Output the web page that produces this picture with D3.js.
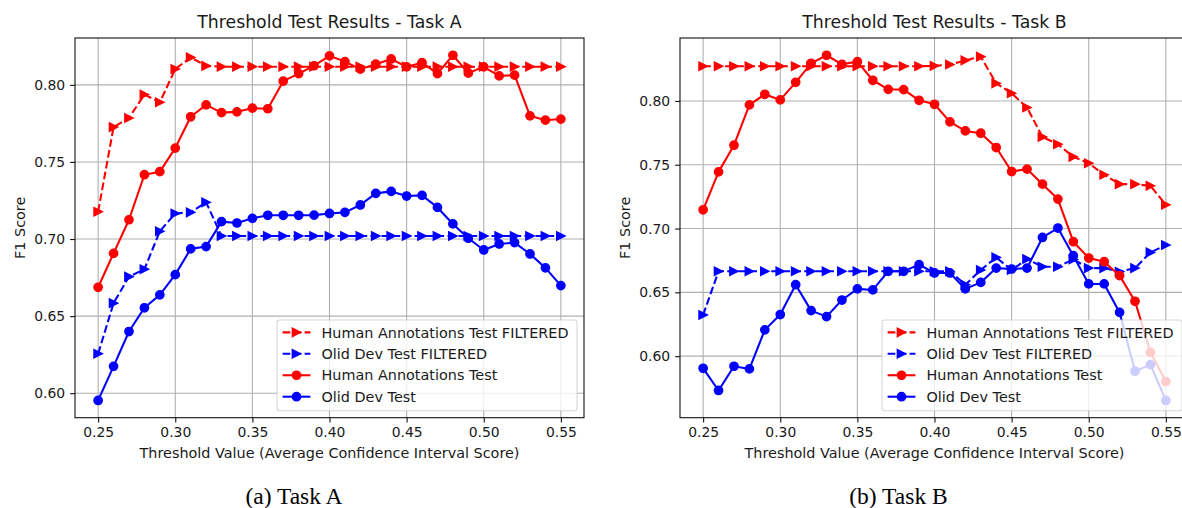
<!DOCTYPE html>
<html><head><meta charset="utf-8">
<script src="https://cdn.jsdelivr.net/npm/d3@7"></script>
<style>html,body{margin:0;padding:0;background:#fff;} svg{display:block;font-family:"DejaVu Sans",sans-serif;}</style>
</head><body><svg id="c" width="1182" height="508"></svg>
<script>
// ---------- data ----------
const thresholds = [0.25,0.26,0.27,0.28,0.29,0.30,0.31,0.32,0.33,0.34,0.35,0.36,0.37,0.38,0.39,0.40,
                    0.41,0.42,0.43,0.44,0.45,0.46,0.47,0.48,0.49,0.50,0.51,0.52,0.53,0.54,0.55];
const xTickValues = [0.25,0.30,0.35,0.40,0.45,0.50,0.55];
const yTickValues = [0.60,0.65,0.70,0.75,0.80];
const seriesNames = ["Human Annotations Test FILTERED","Olid Dev Test FILTERED","Human Annotations Test","Olid Dev Test"];

// Task A
const taskA_humanFiltered = [0.7177,0.7726,0.7785,0.7937,0.7887,0.8103,0.8178,0.8123,0.8118,0.8118,0.8118,0.8118,0.8118,0.8118,0.8118,0.8118,
                             0.8118,0.8118,0.8118,0.8118,0.8118,0.8118,0.8118,0.8118,0.8118,0.8118,0.8118,0.8118,0.8118,0.8118,0.8118];
const taskA_olidFiltered  = [0.6256,0.6584,0.6756,0.6804,0.7050,0.7166,0.7173,0.7238,0.7020,0.7020,0.7020,0.7020,0.7020,0.7020,0.7020,0.7020,
                             0.7020,0.7020,0.7020,0.7020,0.7020,0.7020,0.7020,0.7020,0.7020,0.7020,0.7020,0.7020,0.7020,0.7020,0.7020];
const taskA_human         = [0.6687,0.6907,0.7125,0.7417,0.7437,0.7590,0.7793,0.7870,0.7820,0.7825,0.7849,0.7845,0.8024,0.8073,0.8124,0.8188,
                             0.8151,0.8102,0.8134,0.8168,0.8117,0.8144,0.8073,0.8192,0.8076,0.8117,0.8058,0.8063,0.7799,0.7771,0.7778];
const taskA_olid          = [0.5953,0.6174,0.6400,0.6554,0.6638,0.6769,0.6936,0.6951,0.7113,0.7104,0.7134,0.7154,0.7154,0.7154,0.7155,0.7166,
                             0.7173,0.7221,0.7296,0.7309,0.7279,0.7283,0.7205,0.7098,0.7005,0.6929,0.6968,0.6977,0.6903,0.6813,0.6698];
// Task B
const taskB_humanFiltered = [0.8272,0.8272,0.8272,0.8272,0.8272,0.8272,0.8272,0.8272,0.8272,0.8272,0.8272,0.8272,0.8272,0.8272,0.8272,0.8275,
                             0.8285,0.8318,0.8347,0.8138,0.8060,0.7948,0.7718,0.7661,0.7562,0.7512,0.7421,0.7348,0.7348,0.7335,0.7186];
const taskB_olidFiltered  = [0.6323,0.6665,0.6665,0.6665,0.6665,0.6665,0.6665,0.6665,0.6665,0.6665,0.6665,0.6665,0.6665,0.6665,0.6665,0.6665,
                             0.6665,0.6560,0.6675,0.6774,0.6675,0.6761,0.6701,0.6701,0.6758,0.6690,0.6690,0.6662,0.6690,0.6813,0.6871];
const taskB_human         = [0.7147,0.7444,0.7653,0.7969,0.8052,0.8008,0.8146,0.8295,0.8358,0.8287,0.8308,0.8162,0.8091,0.8089,0.8005,0.7974,
                             0.7836,0.7765,0.7747,0.7635,0.7447,0.7466,0.7348,0.7231,0.6897,0.6769,0.6740,0.6631,0.6430,0.6030,0.5801];
const taskB_olid          = [0.5905,0.5731,0.5921,0.5900,0.6206,0.6326,0.6560,0.6357,0.6310,0.6440,0.6527,0.6519,0.6665,0.6665,0.6717,0.6652,
                             0.6652,0.6527,0.6578,0.6690,0.6683,0.6690,0.6930,0.7004,0.6787,0.6566,0.6566,0.6343,0.5882,0.5934,0.5653];

// ---------- styles ----------
const colors = ["#ff0000","#0000ff","#ff0000","#0000ff"];
const dashed = [true,true,false,false];
const markers = ["tri","tri","circ","circ"];
const LW = 2.08, MR = 4.17, MEW = 1.39, FS = 13.9, FSL = 14.4;

const svg = d3.select("#c");

function pad(domain){ const r = domain[1]-domain[0]; return [domain[0]-0.05*r, domain[1]+0.05*r]; }

function panel(opts){
  const {left, right, top, bottom, series, title, caption, captionX, ylabelX} = opts;
  const g = svg.append("g");
  const x = d3.scaleLinear().domain(pad(d3.extent(thresholds))).range([left, right]);
  const all = series.flat();
  const y = d3.scaleLinear().domain(pad(d3.extent(all))).range([bottom, top]);

  // grid
  g.append("g").selectAll("line").data(xTickValues).join("line")
    .attr("x1", d=>x(d)).attr("x2", d=>x(d)).attr("y1", top).attr("y2", bottom)
    .attr("stroke", "#b0b0b0").attr("stroke-width", 1.1);
  g.append("g").selectAll("line").data(yTickValues).join("line")
    .attr("y1", d=>y(d)).attr("y2", d=>y(d)).attr("x1", left).attr("x2", right)
    .attr("stroke", "#b0b0b0").attr("stroke-width", 1.1);

  // series
  const line = d3.line().x((d,i)=>x(thresholds[i])).y(d=>y(d));
  series.forEach((vals, si)=>{
    const sg = g.append("g");
    sg.append("path").datum(vals).attr("d", line).attr("fill","none")
      .attr("stroke", colors[si]).attr("stroke-width", LW)
      .attr("stroke-linejoin","round")
      .attr("stroke-dasharray", dashed[si] ? "7.7,3.3" : null);
    drawMarkers(sg, vals.map((v,i)=>[x(thresholds[i]), y(v)]), markers[si], colors[si]);
  });

  // frame
  g.append("rect").attr("x", left).attr("y", top).attr("width", right-left).attr("height", bottom-top)
    .attr("fill","none").attr("stroke","#111").attr("stroke-width",1.1);

  // axes
  const ax = g.append("g").attr("transform", `translate(0,${bottom})`)
    .call(d3.axisBottom(x).tickValues(xTickValues).tickFormat(d3.format(".2f")).tickSize(4.9).tickPadding(4.9).tickSizeOuter(0));
  const ay = g.append("g").attr("transform", `translate(${left},0)`)
    .call(d3.axisLeft(y).tickValues(yTickValues).tickFormat(d3.format(".2f")).tickSize(4.9).tickPadding(4.9).tickSizeOuter(0));
  [ax, ay].forEach(a=>{
    a.attr("font-family", '"DejaVu Sans", sans-serif').attr("font-size", FS);
    a.select(".domain").remove();
    a.selectAll(".tick line").attr("stroke","#111").attr("stroke-width",1.1);
    a.selectAll(".tick text").attr("fill","#1a1a1a");
  });

  // legend
  const lw = 300, lh = 90.7;
  const lx = right - 6.95 - lw, ly = bottom - 6.95 - lh;
  const lg = g.append("g");
  lg.append("rect").attr("x", lx).attr("y", ly).attr("width", lw).attr("height", lh).attr("rx", 2.8)
    .attr("fill", "#fff").attr("fill-opacity", 0.8).attr("stroke", "#cccccc").attr("stroke-opacity", 0.8).attr("stroke-width", 1.1);
  seriesNames.forEach((name, si)=>{
    const cy = ly + 12.3 + si*21.45;
    const hx0 = lx + 5.56, hx1 = hx0 + 27.8;
    lg.append("line").attr("x1", hx0).attr("x2", hx1).attr("y1", cy).attr("y2", cy)
      .attr("stroke", colors[si]).attr("stroke-width", LW)
      .attr("stroke-dasharray", dashed[si] ? "7.7,3.3" : null);
    drawMarkers(lg, [[(hx0+hx1)/2, cy]], markers[si], colors[si]);
    lg.append("text").attr("x", hx1 + 11.1).attr("y", cy + 5.2).attr("font-size", FSL)
      .attr("fill", "#1a1a1a").text(name);
  });

  // title
  g.append("text").attr("x", (left+right)/2).attr("y", 27.5).attr("text-anchor","middle")
    .attr("font-size", 17.3).attr("fill","#1a1a1a").text(title);
  // x label
  g.append("text").attr("x", (left+right)/2).attr("y", 458).attr("text-anchor","middle")
    .attr("font-size", FSL).attr("fill","#1a1a1a").text("Threshold Value (Average Confidence Interval Score)");
  // y label
  g.append("text").attr("transform", `translate(${ylabelX},${(top+bottom)/2}) rotate(-90)`)
    .attr("text-anchor","middle").attr("font-size", FSL).attr("fill","#1a1a1a").text("F1 Score");
  // caption
  g.append("text").attr("x", captionX).attr("y", 504).attr("text-anchor","middle")
    .attr("font-family", '"Liberation Serif", "Times New Roman", serif').attr("font-size", 23.5)
    .attr("fill","#000").text(caption);
}

function drawMarkers(sel, pts, type, color){
  const r = MR;
  if (type === "circ") {
    sel.append("g").selectAll("circle").data(pts).join("circle")
      .attr("cx", d=>d[0]).attr("cy", d=>d[1]).attr("r", r)
      .attr("fill", color).attr("stroke", color).attr("stroke-width", MEW);
  } else {
    sel.append("g").selectAll("path").data(pts).join("path")
      .attr("d", d=>`M${d[0]+r},${d[1]} L${d[0]-r},${d[1]-r} L${d[0]-r},${d[1]+r} Z`)
      .attr("fill", color).attr("stroke", color).attr("stroke-width", MEW).attr("stroke-linejoin","miter");
  }
}

panel({left:75, right:584, top:38, bottom:417.7,
  series:[taskA_humanFiltered, taskA_olidFiltered, taskA_human, taskA_olid],
  title:"Threshold Test Results - Task A", caption:"(a) Task A", captionX:294, ylabelX:24.5});
panel({left:680, right:1189, top:38, bottom:417.7,
  series:[taskB_humanFiltered, taskB_olidFiltered, taskB_human, taskB_olid],
  title:"Threshold Test Results - Task B", caption:"(b) Task B", captionX:898.5, ylabelX:629.5});
</script></body></html>
